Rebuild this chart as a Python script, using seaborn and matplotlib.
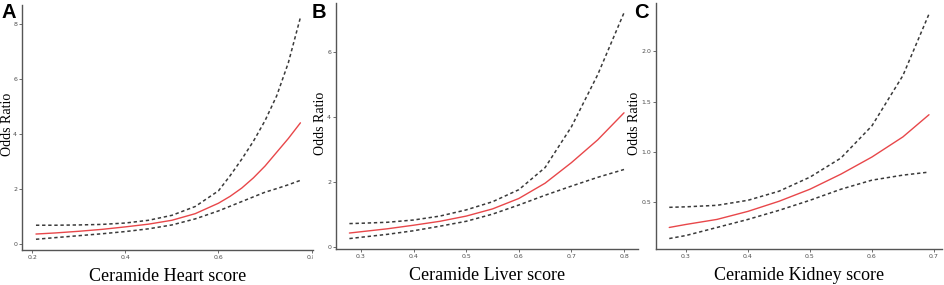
import numpy as np
import pandas as pd
import matplotlib
matplotlib.use("Agg")
import matplotlib.pyplot as plt
import seaborn as sns
from matplotlib.transforms import Bbox, TransformedBbox

# ---- Data ----
heart_x     = [0.208, 0.25, 0.30, 0.35, 0.40, 0.45, 0.50, 0.55, 0.60, 0.625, 0.65, 0.675, 0.70, 0.725, 0.75, 0.776]
heart_or    = [0.38, 0.42, 0.48, 0.55, 0.64, 0.74, 0.88, 1.12, 1.50, 1.75, 2.05, 2.42, 2.85, 3.35, 3.85, 4.42]
heart_upper = [0.70, 0.70, 0.71, 0.73, 0.78, 0.88, 1.06, 1.38, 1.95, 2.50, 3.10, 3.75, 4.50, 5.40, 6.60, 8.25]
heart_lower = [0.19, 0.25, 0.32, 0.39, 0.47, 0.57, 0.71, 0.93, 1.22, 1.39, 1.56, 1.73, 1.90, 2.03, 2.17, 2.33]

liver_x     = [0.278, 0.30, 0.35, 0.40, 0.45, 0.50, 0.55, 0.60, 0.65, 0.70, 0.75, 0.80]
liver_or    = [0.44, 0.48, 0.57, 0.68, 0.80, 0.96, 1.18, 1.50, 1.97, 2.60, 3.30, 4.13]
liver_upper = [0.73, 0.74, 0.77, 0.84, 0.96, 1.15, 1.40, 1.77, 2.45, 3.70, 5.30, 7.20]
liver_lower = [0.27, 0.31, 0.40, 0.51, 0.65, 0.80, 1.02, 1.30, 1.60, 1.88, 2.15, 2.39]

kidney_x     = [0.273, 0.30, 0.35, 0.40, 0.45, 0.50, 0.55, 0.60, 0.65, 0.692]
kidney_or    = [0.25, 0.28, 0.33, 0.41, 0.51, 0.63, 0.78, 0.95, 1.15, 1.37]
kidney_upper = [0.45, 0.455, 0.47, 0.52, 0.61, 0.75, 0.94, 1.26, 1.76, 2.37]
kidney_lower = [0.14, 0.17, 0.25, 0.33, 0.42, 0.52, 0.63, 0.72, 0.77, 0.80]

x_labels = ["Ceramide Heart score", "Ceramide Liver score", "Ceramide Kidney score"]
panel_letters = ["A", "B", "C"]
heart_xticks = [0.2, 0.4, 0.6, 0.8]
heart_yticks = [0, 2, 4, 6, 8]
liver_xticks = [0.3, 0.4, 0.5, 0.6, 0.7, 0.8]
liver_yticks = [0, 2, 4, 6]
kidney_xticks = [0.3, 0.4, 0.5, 0.6, 0.7]
kidney_yticks = [0.5, 1.0, 1.5, 2.0]

sns.set_style("white")

W, H = 945, 285
fig = plt.figure(figsize=(W / 100, H / 100), dpi=100)

def fx(px):
    return px / W

def fy(py):
    return 1 - py / H

panels = [
    dict(x=heart_x, o=heart_or, u=heart_upper, l=heart_lower,
         xt=heart_xticks, yt=heart_yticks, xfmt="{:.1f}", yfmt="{:.0f}",
         box=(22, 5, 313, 250), xlim=(0.178, 0.803), ylim=(-0.2, 8.7),
         ylab_x=8, letter_x=2, clip_right=313),
    dict(x=liver_x, o=liver_or, u=liver_upper, l=liver_lower,
         xt=liver_xticks, yt=liver_yticks, xfmt="{:.1f}", yfmt="{:.0f}",
         box=(336, 3, 638, 249), xlim=(0.2525, 0.8266), ylim=(-0.05, 7.5),
         ylab_x=321, letter_x=312, clip_right=None),
    dict(x=kidney_x, o=kidney_or, u=kidney_upper, l=kidney_lower,
         xt=kidney_xticks, yt=kidney_yticks, xfmt="{:.1f}", yfmt="{:.1f}",
         box=(656, 3, 942, 249), xlim=(0.2516, 0.713), ylim=(0.036, 2.48),
         ylab_x=635, letter_x=634, clip_right=None),
]

axis_col = "#555555"
dash_col = "#3a3a3a"
for i, p in enumerate(panels):
    x0, y0, x1, y1 = p["box"]
    ax = fig.add_axes([fx(x0), fy(y1), fx(x1) - fx(x0), fy(y0) - fy(y1)])
    df = pd.DataFrame({"x": p["x"], "or": p["o"], "upper": p["u"], "lower": p["l"]})
    sns.lineplot(data=df, x="x", y="upper", ax=ax, color=dash_col, lw=1.1,
                 linestyle=(0, (2.2, 1.8)))
    sns.lineplot(data=df, x="x", y="lower", ax=ax, color=dash_col, lw=1.1,
                 linestyle=(0, (2.2, 1.8)))
    sns.lineplot(data=df, x="x", y="or", ax=ax, color="#E8474A", lw=1.0)
    ax.set_xlim(*p["xlim"])
    ax.set_ylim(*p["ylim"])
    ax.set_xticks(p["xt"])
    ax.set_xticklabels([p["xfmt"].format(v) for v in p["xt"]])
    ax.set_yticks(p["yt"])
    ax.set_yticklabels([p["yfmt"].format(v) for v in p["yt"]])
    for s in ["top", "right"]:
        ax.spines[s].set_visible(False)
    for s in ["left", "bottom"]:
        ax.spines[s].set_color(axis_col)
        ax.spines[s].set_linewidth(1.0)
    ax.tick_params(axis="both", which="major", length=2, width=0.6, color=axis_col,
                   labelsize=4.5, labelcolor="#4d4d4d", pad=1.5, direction="out",
                   bottom=True, left=True)
    ax.set_xlabel(x_labels[i], fontsize=13, family="Liberation Serif", labelpad=6,
                  color="black")
    ax.set_ylabel("")
    ax.grid(False)
    fig.text(fx(p["ylab_x"]), (fy(y0) + fy(y1)) / 2 + 0.01, "Odds Ratio", rotation=90,
             ha="center", va="center", fontsize=10, family="Liberation Serif",
             color="black")
    fig.text(fx(p["letter_x"]), fy(3), panel_letters[i], ha="left", va="top",
             fontsize=14.5, fontweight="bold", family="Liberation Sans",
             color="black")
    if p["clip_right"] is not None:
        cb = TransformedBbox(Bbox([[0, 0], [fx(p["clip_right"]), 1]]), fig.transFigure)
        for lbl in ax.get_xticklabels():
            lbl.set_clip_box(cb)
            lbl.set_clip_on(True)

fig.savefig("out.png", dpi=100)
